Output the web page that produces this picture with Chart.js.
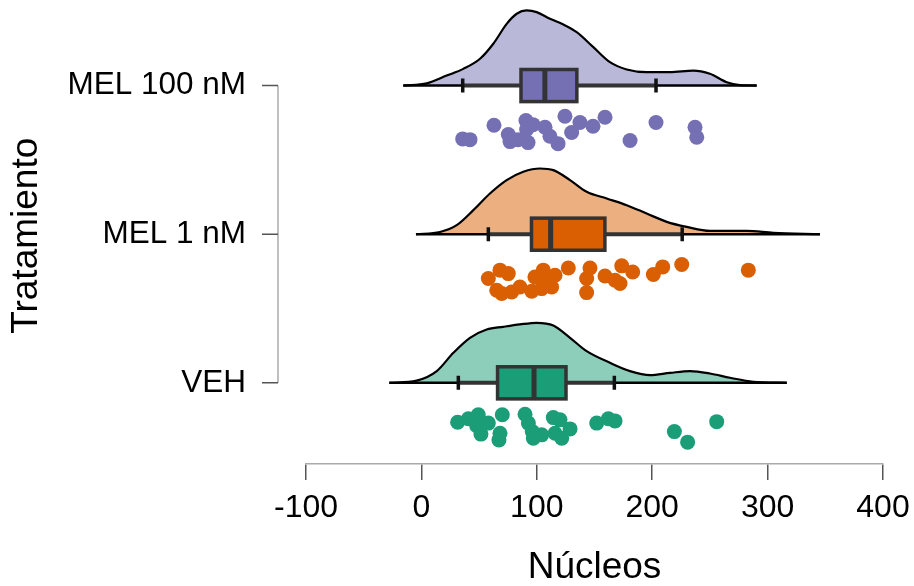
<!DOCTYPE html>
<html lang="es">
<head>
<meta charset="UTF-8" />
<title>Núcleos por tratamiento</title>
<script src="https://cdn.jsdelivr.net/npm/chart.js@4.4.0/dist/chart.umd.min.js"></script>
<style>
  body { margin: 0; background: #fff; }
  #wrap { width: 914px; height: 586px; }
</style>
</head>
<body>
<div id="wrap"><canvas id="raincloud" width="914" height="586"></canvas></div>
<script>
// grupos de abajo hacia arriba (y = 1, 2, 3)
const groups = ["VEH", "MEL 1 nM", "MEL 100 nM"];
const pointColors = ["#1b9e77", "#d95f02", "#7570b3"];
const cloudColors = ["#8dcebb", "#ecaf80", "#bab8d9"];
const xTicks = [-100, 0, 100, 200, 300, 400];

// densidades: x y altura (en unidades del eje y)
const vehDensX = [-27.8, -4.1, 13.3, 27.7, 42.1, 56.6, 71, 85.4, 99.9, 114.3, 128.8, 143.2, 163.4, 180.8, 198.1, 215.4, 232.8, 250.1, 267.4, 287.6, 316.6];
const vehDensH = [0, 0.015, 0.079, 0.202, 0.303, 0.359, 0.377, 0.393, 0.404, 0.386, 0.303, 0.213, 0.135, 0.079, 0.052, 0.067, 0.079, 0.063, 0.034, 0.007, 0];
const mel1DensX = [-4.7, 16.1, 30.6, 45, 59.4, 73.9, 88.3, 102.8, 114.3, 128.8, 143.2, 160.6, 177.9, 195.2, 212.6, 229.9, 250.1, 281.9, 305, 345.4];
const mel1DensH = [0, 0.015, 0.061, 0.162, 0.274, 0.364, 0.42, 0.442, 0.431, 0.364, 0.285, 0.24, 0.195, 0.139, 0.083, 0.049, 0.022, 0.022, 0.009, 0];
const mel100DensX = [-15.7, 4.6, 21.9, 36.3, 50.8, 62.3, 73.9, 82.6, 91.2, 99.9, 111.4, 123, 134.6, 149, 163.4, 177.9, 195.2, 215.4, 235.6, 250, 264.6, 276, 290.5];
const mel100DensH = [0, 0.015, 0.067, 0.112, 0.18, 0.281, 0.415, 0.483, 0.505, 0.494, 0.449, 0.411, 0.359, 0.258, 0.157, 0.108, 0.09, 0.09, 0.101, 0.079, 0.022, 0.003, 0];

// cajas: [bigote inf, Q1, mediana, Q3, bigote sup]
const vehBox = [32, 66, 97.6, 125.3, 167.2];
const mel1Box = [58, 95.4, 112, 159, 226];
const mel100Box = [35.8, 86.3, 107, 134.7, 203.3];

// puntos individuales y su desplazamiento vertical
const vehPts = [31.4, 40.7, 49.3, 47.9, 51.6, 58, 70.1, 68.1, 67.2, 89.8, 92.7, 96.1, 97, 104.2, 114.3, 120.1, 115.8, 121.6, 128.8, 151.9, 162, 167.8, 219.2, 230.7, 255.9];
const vehJit = [-0.265, -0.242, -0.215, -0.288, -0.345, -0.271, -0.215, -0.339, -0.384, -0.211, -0.271, -0.328, -0.372, -0.35, -0.234, -0.249, -0.339, -0.372, -0.31, -0.271, -0.242, -0.256, -0.328, -0.399, -0.261];
const mel1Pts = [58, 68.1, 75.3, 65.3, 69.6, 78.2, 85.4, 95.6, 98.4, 105.6, 110, 112.9, 115.8, 104.2, 127.3, 146.1, 143.2, 143.2, 159.1, 167.8, 173.6, 172.1, 183.1, 201, 209.1, 225.6, 283.3];
const mel1Jit = [-0.298, -0.242, -0.265, -0.377, -0.399, -0.389, -0.355, -0.384, -0.288, -0.242, -0.31, -0.355, -0.276, -0.366, -0.227, -0.227, -0.298, -0.393, -0.281, -0.31, -0.213, -0.332, -0.254, -0.271, -0.22, -0.204, -0.242];
const mel100Pts = [35.8, 42.1, 62.9, 75.3, 76.8, 83.7, 90.6, 91.2, 92.4, 96.7, 107.1, 111.4, 118.4, 124.4, 130.2, 137.4, 148.7, 159.1, 180.8, 203.3, 237.1, 238.6];
const mel100Jit = [-0.359, -0.364, -0.267, -0.33, -0.377, -0.364, -0.236, -0.296, -0.384, -0.263, -0.281, -0.341, -0.391, -0.207, -0.316, -0.249, -0.274, -0.213, -0.37, -0.249, -0.281, -0.348];

const densX = [vehDensX, mel1DensX, mel100DensX];
const densH = [vehDensH, mel1DensH, mel100DensH];
const boxes = [vehBox, mel1Box, mel100Box];
const pts = [vehPts, mel1Pts, mel100Pts];
const jit = [vehJit, mel1Jit, mel100Jit];
const boxHalf = 0.108;
const capHalf = 0.047;
const fontFam = "'Liberation Sans', Arial, sans-serif";

const datasets = [];
groups.forEach((g, i) => {
  const base = i + 1;
  datasets.push({
    type: "line",
    label: g + " densidad",
    data: densX[i].map((x, k) => ({ x: x, y: base + densH[i][k] })),
    borderColor: "#000",
    borderWidth: 2.2,
    backgroundColor: cloudColors[i],
    fill: { value: base },
    pointRadius: 0,
    cubicInterpolationMode: "monotone",
    order: 3,
  });
  const xs = densX[i];
  datasets.push({
    type: "line",
    label: g + " base",
    data: [{ x: xs[0], y: base }, { x: xs[xs.length - 1], y: base }],
    borderColor: "#000",
    borderWidth: 2.5,
    pointRadius: 0,
    fill: false,
    order: 2,
  });
  datasets.push({
    type: "scatter",
    label: g,
    data: pts[i].map((v, k) => ({ x: v, y: base + jit[i][k] })),
    backgroundColor: pointColors[i],
    borderWidth: 0,
    pointRadius: 7.5,
    order: 1,
  });
});

// caja y bigotes dibujados con las escalas del gráfico
const boxPlugin = {
  id: "boxes",
  afterDatasetsDraw(chart) {
    const { ctx, scales: { x, y } } = chart;
    ctx.save();
    boxes.forEach((b, i) => {
      const base = i + 1;
      const yc = y.getPixelForValue(base);
      const yt = y.getPixelForValue(base + boxHalf);
      const yb = y.getPixelForValue(base - boxHalf);
      const ct = y.getPixelForValue(base + capHalf);
      const cb = y.getPixelForValue(base - capHalf);
      const [lo, q1, med, q3, hi] = b.map(v => x.getPixelForValue(v));
      ctx.strokeStyle = "#333";
      ctx.lineWidth = 4;
      ctx.beginPath();
      ctx.moveTo(lo, yc);
      ctx.lineTo(hi, yc);
      ctx.stroke();
      ctx.strokeStyle = "#111";
      ctx.lineWidth = 3.5;
      ctx.beginPath();
      ctx.moveTo(lo, ct); ctx.lineTo(lo, cb);
      ctx.moveTo(hi, ct); ctx.lineTo(hi, cb);
      ctx.stroke();
      ctx.fillStyle = pointColors[i];
      ctx.fillRect(q1, yt, q3 - q1, yb - yt);
      ctx.strokeStyle = "#333";
      ctx.lineWidth = 3.5;
      ctx.strokeRect(q1, yt, q3 - q1, yb - yt);
      ctx.lineWidth = 5;
      ctx.beginPath();
      ctx.moveTo(med, yt);
      ctx.lineTo(med, yb);
      ctx.stroke();
    });
    ctx.restore();
  },
  afterDraw(chart) {
    // eje y separado, estilo R
    const { ctx, chartArea, scales: { y } } = chart;
    const ax = chartArea.left - 28;
    ctx.save();
    ctx.strokeStyle = "#aaa";
    ctx.lineWidth = 1.5;
    ctx.beginPath();
    ctx.moveTo(ax, y.getPixelForValue(groups.length));
    ctx.lineTo(ax, y.getPixelForValue(1));
    ctx.stroke();
    ctx.strokeStyle = "#555";
    ctx.beginPath();
    groups.forEach((g, i) => {
      const py = y.getPixelForValue(i + 1);
      ctx.moveTo(ax - 16, py);
      ctx.lineTo(ax, py);
    });
    ctx.stroke();
    ctx.restore();
  },
};

new Chart(document.getElementById("raincloud"), {
  type: "scatter",
  data: { datasets: datasets },
  options: {
    responsive: false,
    animation: false,
    layout: { padding: { left: 0, top: 0, right: 31, bottom: 0 } },
    plugins: { legend: { display: false }, tooltip: { enabled: false } },
    scales: {
      x: {
        type: "linear",
        min: -100,
        max: 400,
        afterBuildTicks: s => { s.ticks = xTicks.map(v => ({ value: v })); },
        afterFit: s => { s.height = 122; s.paddingLeft = 0; s.paddingRight = 0; },
        grid: { drawOnChartArea: false, drawTicks: true, tickLength: 16, color: "#555", lineWidth: 1.5 },
        border: { display: true, color: "#aaa", width: 1.5 },
        ticks: { color: "#000", font: { family: fontFam, size: 32 }, padding: 9, maxRotation: 0 },
        title: { display: true, text: "Núcleos", color: "#000", font: { family: fontFam, size: 37, lineHeight: 1 }, padding: { top: 0, bottom: 0 } },
      },
      y: {
        type: "linear",
        min: 0.454,
        max: 3.525,
        afterBuildTicks: s => { s.ticks = groups.map((g, i) => ({ value: i + 1 })); },
        afterFit: s => { s.width = 306; s.paddingTop = 0; s.paddingBottom = 0; },
        grid: { display: false, drawTicks: false },
        border: { display: false },
        ticks: { color: "#000", font: { family: fontFam, size: 31.5 }, padding: 60, callback: v => groups[Math.round(v) - 1] },
        title: { display: true, text: "Tratamiento", color: "#000", font: { family: fontFam, size: 37 }, padding: { top: 5, bottom: 0 } },
      },
    },
  },
  plugins: [boxPlugin],
});
</script>
</body>
</html>
